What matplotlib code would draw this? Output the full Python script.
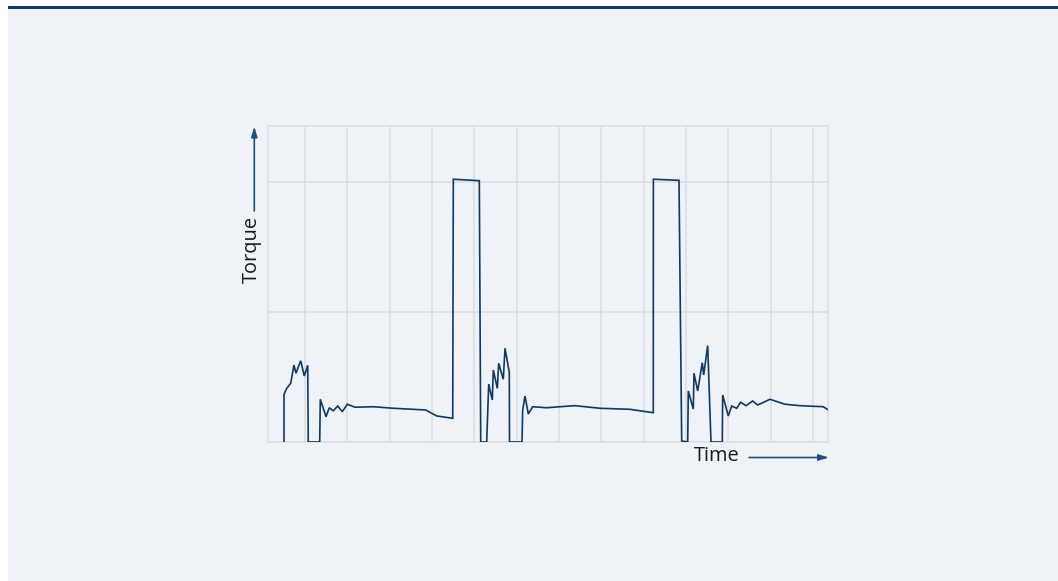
import matplotlib
matplotlib.use("Agg")
import matplotlib.pyplot as plt
from matplotlib.patches import Rectangle, FancyArrowPatch

plt.rcParams['font.family'] = ['Open Sans', 'DejaVu Sans']

# Time (arbitrary units, one grid division = 1) and torque (one grid division = 1)
time = [-0.496, -0.496, -0.432, -0.338, -0.260, -0.213, -0.102, -0.017, 0.064, 0.076,
        0.347, 0.361, 0.496, 0.574, 0.668, 0.772, 0.881, 0.999, 1.181, 1.613,
        2.085, 2.850, 3.110, 3.488, 3.502, 4.116, 4.149, 4.290, 4.338, 4.423,
        4.446, 4.541, 4.574, 4.682, 4.723, 4.824, 4.829, 5.124, 5.140, 5.195,
        5.273, 5.377, 5.707, 6.021, 6.375, 6.966, 7.674, 8.224, 8.226, 8.831,
        8.895, 9.037, 9.051, 9.169, 9.185, 9.273, 9.381, 9.414, 9.509, 9.587,
        9.854, 9.863, 9.995, 10.075, 10.193, 10.288, 10.413, 10.571, 10.689, 10.980,
        11.334, 11.688, 12.238, 12.333]
torque = [0.0, 0.366, 0.412, 0.451, 0.591, 0.528, 0.624, 0.507, 0.589, 0.0,
          0.0, 0.328, 0.194, 0.263, 0.240, 0.276, 0.233, 0.290, 0.267, 0.271,
          0.259, 0.246, 0.200, 0.182, 2.018, 2.007, 0.0, 0.0, 0.445, 0.323,
          0.553, 0.412, 0.604, 0.482, 0.720, 0.535, 0.0, 0.0, 0.246, 0.353,
          0.215, 0.271, 0.263, 0.271, 0.279, 0.259, 0.251, 0.225, 2.018, 2.010,
          0.008, 0.0, 0.392, 0.253, 0.528, 0.392, 0.609, 0.515, 0.740, 0.0,
          0.0, 0.361, 0.200, 0.276, 0.259, 0.305, 0.279, 0.315, 0.284, 0.328,
          0.290, 0.279, 0.271, 0.251]
x_ticks = list(range(0, 13))
y_ticks = [0, 1, 2]
x_label = "Time"
y_label = "Torque"

W, H = 1058, 581
BG = "#eff3f7"
NAVY = "#0d3a63"
ARROW = "#1f4f82"
GRID = "#dcdcdc"

fig = plt.figure(figsize=(W / 100, H / 100), dpi=100)
fig.patch.set_facecolor("white")

def fx(px):
    return px / W

def fy(py):
    return 1 - py / H

# panel background and top rule
fig.patches.append(Rectangle((fx(8), 0), 1 - fx(8), fy(9), transform=fig.transFigure,
                             facecolor=BG, edgecolor="none", zorder=-10))
fig.patches.append(Rectangle((fx(8), fy(9)), 1 - fx(8), fy(6) - fy(9), transform=fig.transFigure,
                             facecolor=NAVY, edgecolor="none", zorder=-9))

ax = fig.add_axes([fx(268), fy(442), fx(828.3) - fx(268), fy(126) - fy(442)])
ax.set_zorder(2)
ax.set_facecolor(BG)
ax.set_xlim(-0.874, 12.357)
ax.set_ylim(0, 2.427)
ax.set_xticks(x_ticks)
ax.set_yticks(y_ticks)
ax.tick_params(length=0, labelbottom=False, labelleft=False)
ax.grid(True, color=GRID, linewidth=1.1)
ax.set_axisbelow(True)
for s in ax.spines.values():
    s.set_color(GRID)
    s.set_linewidth(1.1)

ax.plot(time, torque, color=NAVY, linewidth=1.2, solid_joinstyle="miter", zorder=3)

# axis arrows and labels
arrow_kw = dict(arrowstyle="-|>,head_length=0.6,head_width=0.18", color=ARROW, lw=1.2,
                shrinkA=0, shrinkB=0, mutation_scale=10, zorder=5)
fig.add_artist(FancyArrowPatch((fx(254.3), fy(211)), (fx(254.3), fy(126.5)),
                               transform=fig.transFigure, **arrow_kw))
fig.add_artist(FancyArrowPatch((fx(749), fy(457.5)), (fx(829), fy(457.5)),
                               transform=fig.transFigure, **arrow_kw))
fig.text(fx(252), fy(249), y_label, rotation=90, ha="center", va="center",
         fontsize=14.4, color="#1a1a1a", zorder=5)
fig.text(fx(717), fy(456), x_label, ha="center", va="center",
         fontsize=14.4, color="#1a1a1a", zorder=5)

fig.savefig("out.png", dpi=100, facecolor=fig.get_facecolor())
